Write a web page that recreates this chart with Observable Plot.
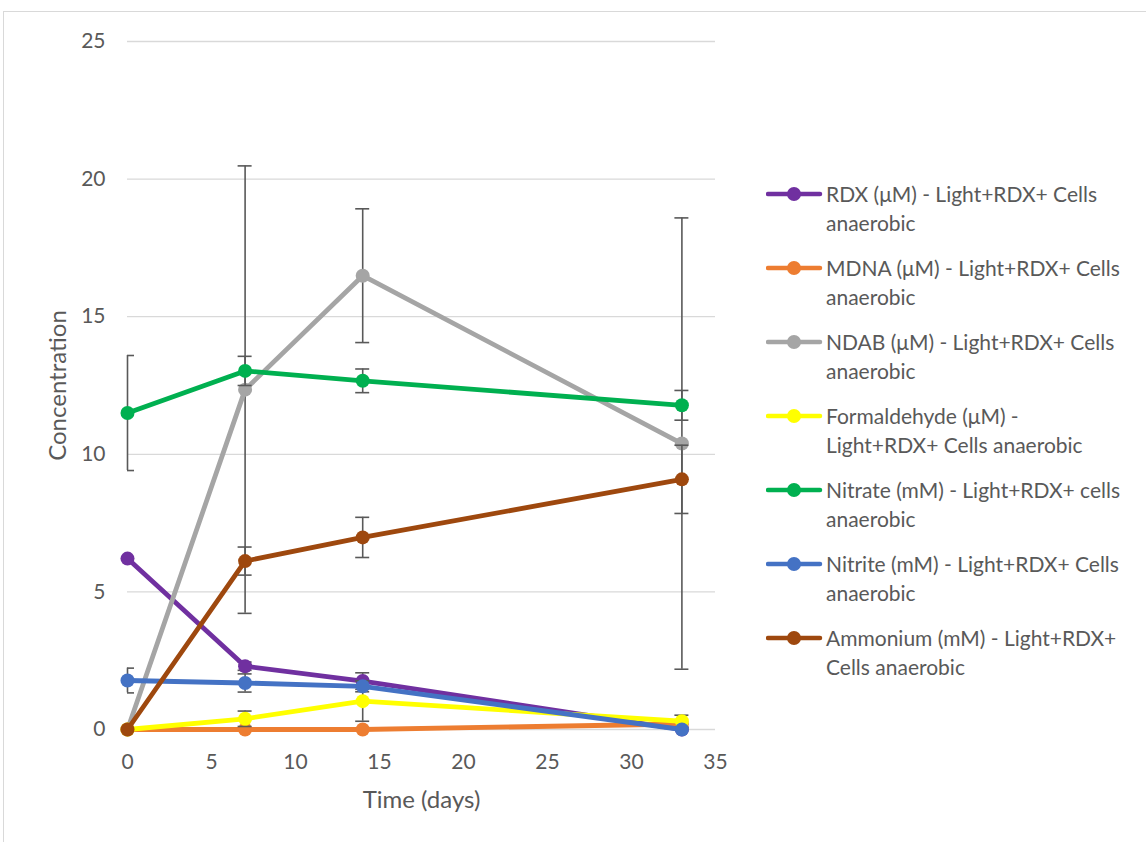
<!DOCTYPE html>
<html>
<head>
<meta charset="utf-8">
<script src="https://cdn.jsdelivr.net/npm/d3@7"></script>
<script src="https://cdn.jsdelivr.net/npm/@observablehq/plot@0.6"></script>
<style>
  html, body { margin: 0; padding: 0; background: #fff; overflow: hidden; }
  body { width: 1146px; height: 842px; position: relative; font-family: Lato, "Open Sans", sans-serif; }
  #frame { position: absolute; left: 3px; top: 11px; width: 1160px; height: 860px; border: 1px solid #d9d9d9; box-sizing: border-box; }
  #chart { position: absolute; left: 0; top: 0; }
  #legend { position: absolute; left: 766px; top: 0; color: #595959; font-size: 21px; }
  .entry { position: absolute; left: 0; width: 380px; }
  .entry svg { position: absolute; left: 0; top: 7px; }
  .entry .txt { position: absolute; left: 60px; top: 0; line-height: 29px; white-space: nowrap; }
</style>
</head>
<body>
<div id="frame"></div>
<div id="chart"></div>
<div id="legend"></div>
<script>
// Sampling times (days)
const days = [0, 7, 14, 33];

// Series names (legend lines)
const seriesNames = [
  ["RDX (μM) - Light+RDX+ Cells", "anaerobic"],
  ["MDNA (μM) - Light+RDX+ Cells", "anaerobic"],
  ["NDAB (μM) - Light+RDX+ Cells", "anaerobic"],
  ["Formaldehyde (μM) -", "Light+RDX+ Cells anaerobic"],
  ["Nitrate (mM) - Light+RDX+ cells", "anaerobic"],
  ["Nitrite (mM) - Light+RDX+ Cells", "anaerobic"],
  ["Ammonium (mM) - Light+RDX+", "Cells anaerobic"]
];
const seriesColors = ["#7030A0", "#ED7D31", "#A5A5A5", "#FFFF00", "#00B050", "#4472C4", "#9E480E"];

// Mean concentrations
const rdx      = [6.21, 2.30, 1.76, 0.00];
const mdna     = [0.00, 0.00, 0.00, 0.20];
const ndab     = [0.00, 12.35, 16.49, 10.39];
const formald  = [0.00, 0.39, 1.03, 0.30];
const nitrate  = [11.50, 13.03, 12.67, 11.78];
const nitrite  = [1.78, 1.69, 1.57, 0.00];
const ammonium = [0.00, 6.12, 6.98, 9.09];

// Error bar half-widths (±)
const rdxErr      = [0, 0.15, 0.30, 0];
const mdnaErr     = [0, 0, 0, 0];
const ndabErr     = [0, 8.13, 2.43, 8.20];
const formaldErr  = [0, 0.28, 0.73, 0.22];
const nitrateErr  = [2.09, 0.53, 0.43, 0.54];
const nitriteErr  = [0.45, 0.33, 0.20, 0];
const ammoniumErr = [0, 0.51, 0.73, 1.24];

const values = [rdx, mdna, ndab, formald, nitrate, nitrite, ammonium];
const errors = [rdxErr, mdnaErr, ndabErr, formaldErr, nitrateErr, nitriteErr, ammoniumErr];

const xTicks = [0, 5, 10, 15, 20, 25, 30, 35];
const yTicks = [0, 5, 10, 15, 20, 25];

const series = values.map((v, s) => days.map((t, i) => ({
  t, v: v[i], e: errors[s][i], lo: v[i] - errors[s][i], hi: v[i] + errors[s][i]
})));

const errColor = "#595959";
const marks = [
  Plot.gridY(yTicks, {stroke: "#d9d9d9", strokeOpacity: 1, strokeWidth: 1.3})
];

// Each series: error bars, then the line, then the markers
series.forEach((rows, s) => {
  const withErr = rows.filter(d => d.e > 0);
  marks.push(
    Plot.ruleX(withErr, {x: "t", y1: "lo", y2: "hi", stroke: errColor, strokeWidth: 1.6}),
    Plot.ruleY(withErr, {x1: "t", x2: "t", y: "hi", insetLeft: -7, insetRight: -7, stroke: errColor, strokeWidth: 1.6, clip: true}),
    Plot.ruleY(withErr, {x1: "t", x2: "t", y: "lo", insetLeft: -7, insetRight: -7, stroke: errColor, strokeWidth: 1.6, clip: true}),
    Plot.line(rows, {x: "t", y: "v", stroke: seriesColors[s], strokeWidth: 4.8, strokeLinejoin: "round", strokeLinecap: "round"}),
    Plot.dot(rows, {x: "t", y: "v", r: 7, fill: seriesColors[s], stroke: "none"})
  );
});

// Axis titles
marks.push(
  Plot.text(["Time (days)"], {frameAnchor: "bottom", dy: 78, fontSize: 24, fill: "#595959"}),
  Plot.text(["Concentration"], {frameAnchor: "left", dx: -69, rotate: -90, textAnchor: "middle", fontSize: 24, fill: "#595959"})
);

const chart = Plot.plot({
  width: 1146,
  height: 842,
  marginLeft: 127,
  marginRight: 431,
  marginTop: 41,
  marginBottom: 113,
  style: {fontFamily: "Lato, 'Open Sans', sans-serif", color: "#595959", background: "transparent"},
  x: {domain: [0, 35], ticks: xTicks, tickSize: 0, label: null},
  y: {domain: [0, 25], ticks: yTicks, tickSize: 0, label: null},
  marks: [
    ...marks,
    Plot.axisX(xTicks, {tickSize: 0, tickPadding: 25, fontSize: 21, fill: "#595959", label: null}),
    Plot.axisY(yTicks, {tickSize: 0, tickPadding: 22, fontSize: 21, fill: "#595959", label: null})
  ]
});
document.getElementById("chart").appendChild(chart);

// Legend at the right of the plot
const legend = document.getElementById("legend");
seriesNames.forEach((lines, s) => {
  const entry = document.createElement("div");
  entry.className = "entry";
  entry.style.top = (193 - 14.5 + 74 * s) + "px";
  entry.innerHTML =
    `<svg width="58" height="16"><line x1="2" y1="8" x2="54" y2="8" stroke="${seriesColors[s]}" stroke-width="4.5" stroke-linecap="round"/>` +
    `<circle cx="28" cy="8" r="7" fill="${seriesColors[s]}"/></svg>` +
    `<div class="txt">${lines.join("<br>")}</div>`;
  legend.appendChild(entry);
});
</script>
</body>
</html>
